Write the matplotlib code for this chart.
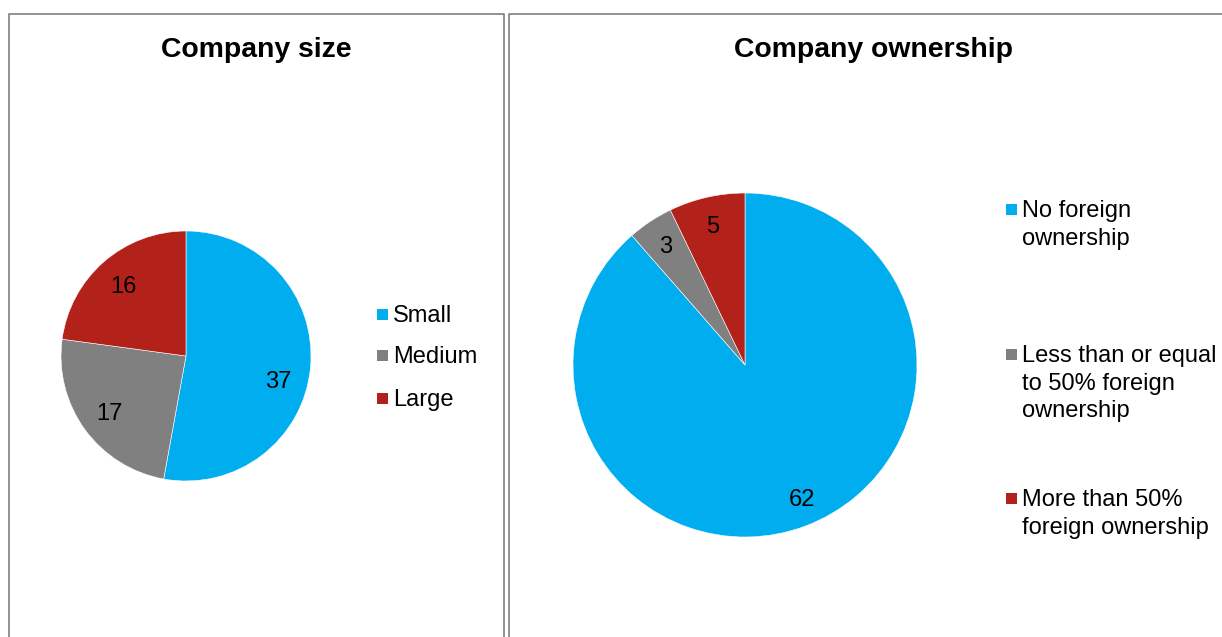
import numpy as np
import matplotlib
matplotlib.use("Agg")
import matplotlib.pyplot as plt
from matplotlib.patches import Rectangle
from matplotlib.lines import Line2D

plt.rcParams["font.family"] = ["Liberation Sans", "DejaVu Sans"]

# ---- data -------------------------------------------------------------
size_categories = ["Small", "Medium", "Large"]
size_values = [37, 17, 16]

ownership_categories = [
    "No foreign\nownership",
    "Less than or equal\nto 50% foreign\nownership",
    "More than 50%\nforeign ownership",
]
ownership_values = [62, 3, 5]

colors = ["#00AEEF", "#808080", "#B2221A"]

# ---- figure -----------------------------------------------------------
W, H = 1222, 637
DPI = 100
fig = plt.figure(figsize=(W / DPI, H / DPI), dpi=DPI)
fig.patch.set_facecolor("white")


def fx(x):
    return x / W


def fy(y):
    return 1 - y / H


FS = 17
LINE_STEP = 27.5
BORDER = "#7F7F7F"

# panel frames
for xs, ys in [
    ([9, 9, 504, 504], [H + 5, 14, 14, H + 5]),
    ([509, 509, W + 5], [H + 5, 14, 14]),
]:
    fig.add_artist(Line2D([fx(v) for v in xs], [fy(v) for v in ys],
                          color=BORDER, lw=1.2, transform=fig.transFigure))

# titles
fig.text(fx(256.5), fy(50), "Company size", ha="center", va="center",
         fontsize=20.4, fontweight="bold", color="black")
fig.text(fx(874), fy(50), "Company ownership", ha="center", va="center",
         fontsize=20.4, fontweight="bold", color="black")


def pie_axes(cx, cy, r):
    return fig.add_axes([fx(cx - r), fy(cy + r), (2 * r) / W, (2 * r) / H])


def draw_pie(ax, values, label_r, nudges):
    wedges, _ = ax.pie(values, colors=colors, startangle=90,
                       counterclock=False,
                       wedgeprops=dict(edgecolor="white", linewidth=0.4))
    ax.set_xlim(-1, 1)
    ax.set_ylim(-1, 1)
    ax.set_aspect("equal")
    ax.axis("off")
    for w, v, dth in zip(wedges, values, nudges):
        th = np.deg2rad((w.theta1 + w.theta2) / 2 + dth)
        ax.text(label_r * np.cos(th), label_r * np.sin(th), str(v),
                ha="center", va="center_baseline", fontsize=FS,
                color="black")


ax1 = pie_axes(186, 356, 125)
draw_pie(ax1, size_values, 0.76, [-9.4, 0, 0])

ax2 = pie_axes(745, 365, 172)
draw_pie(ax2, ownership_values, 0.84, [2.5, 0, 0])

# legends: square marker aligned with the first line of each label
SQ = 11


def legend(items, sq_x, text_x, ys):
    for (label, col), y in zip(items, ys):
        fig.add_artist(Rectangle((fx(sq_x - SQ / 2), fy(y + SQ / 2)),
                                 SQ / W, SQ / H, facecolor=col,
                                 edgecolor="none",
                                 transform=fig.transFigure))
        for k, line in enumerate(label.split("\n")):
            fig.text(fx(text_x), fy(y + 8.4 + k * LINE_STEP), line,
                     ha="left", va="baseline", fontsize=FS, color="black")


legend(zip(size_categories, colors), 382, 393, [314, 355, 398])
legend(zip(ownership_categories, colors), 1011.5, 1022, [209, 354, 498])

fig.savefig("out.png", dpi=DPI, facecolor="white")
